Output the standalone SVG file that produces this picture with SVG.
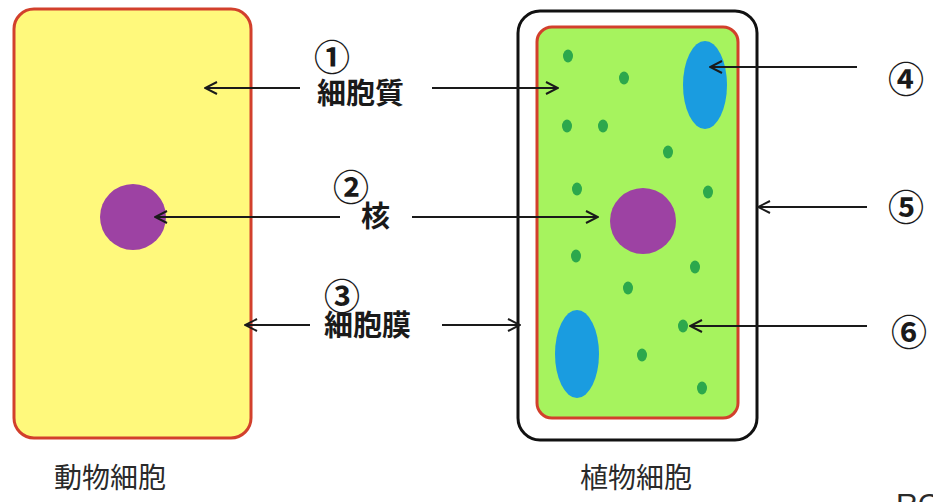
<svg xmlns="http://www.w3.org/2000/svg" width="933" height="502" viewBox="0 0 933 502">
  <style>
    .lbl { font-family: "Noto Sans CJK JP", "Noto Sans CJK SC", sans-serif; font-weight: bold; fill: #1a1a1a; font-size: 29px; }
    .num { font-family: "Noto Sans CJK JP", "Noto Sans CJK SC", sans-serif; font-weight: bold; fill: #1a1a1a; font-size: 36px; }
    .cap { font-family: "Noto Sans CJK JP", "Noto Sans CJK SC", sans-serif; font-size: 28px; fill: #2a2a2a; }
    .arrow { stroke: #1a1a1a; stroke-width: 2; fill: none; marker-end: url(#head); }
    .chloro { fill: #2ca84c; }
    .vac { fill: #1a9ce0; }
    .nuc { fill: #9d42a3; }
  </style>
  <defs>
    <marker id="head" viewBox="0 0 14 14" refX="13" refY="7" markerWidth="14" markerHeight="14" markerUnits="userSpaceOnUse" orient="auto">
      <path d="M1,1 L13,7 L1,13" fill="none" stroke="#1a1a1a" stroke-width="2"/>
    </marker>
  </defs>
  <rect width="933" height="502" fill="#ffffff"/>

  <!-- animal cell -->
  <g id="animal-cell">
    <rect x="14" y="9" width="237" height="429" rx="20" ry="20" fill="#fff97c" stroke="#d2402c" stroke-width="3"/>
    <circle class="nuc" cx="133" cy="217" r="33"/>
    <text class="cap" x="110" y="488" text-anchor="middle">動物細胞</text>
  </g>

  <!-- plant cell -->
  <g id="plant-cell">
    <rect x="518" y="11" width="239" height="429" rx="22" ry="22" fill="#ffffff" stroke="#111111" stroke-width="3"/>
    <rect x="537" y="27" width="201" height="391" rx="15" ry="15" fill="#a6f35e" stroke="#d2402c" stroke-width="3"/>
    <ellipse class="vac" cx="705" cy="85" rx="22" ry="44"/>
    <ellipse class="vac" cx="577" cy="354" rx="22" ry="44"/>
    <circle class="nuc" cx="643" cy="221" r="33"/>
    <g id="chloroplasts">
      <ellipse class="chloro" cx="568" cy="56" rx="5" ry="6.5"/>
      <ellipse class="chloro" cx="624" cy="78" rx="5" ry="6.5"/>
      <ellipse class="chloro" cx="567" cy="126" rx="5" ry="6.5"/>
      <ellipse class="chloro" cx="603" cy="126" rx="5" ry="6.5"/>
      <ellipse class="chloro" cx="668" cy="152" rx="5" ry="6.5"/>
      <ellipse class="chloro" cx="577" cy="189" rx="5" ry="6.5"/>
      <ellipse class="chloro" cx="708" cy="192" rx="5" ry="6.5"/>
      <ellipse class="chloro" cx="576" cy="256" rx="5" ry="6.5"/>
      <ellipse class="chloro" cx="695" cy="267" rx="5" ry="6.5"/>
      <ellipse class="chloro" cx="628" cy="288" rx="5" ry="6.5"/>
      <ellipse class="chloro" cx="683" cy="326" rx="5" ry="6.5"/>
      <ellipse class="chloro" cx="642" cy="355" rx="5" ry="6.5"/>
      <ellipse class="chloro" cx="702" cy="388" rx="5" ry="6.5"/>
    </g>
    <text class="cap" x="636" y="488" text-anchor="middle">植物細胞</text>
  </g>

  <!-- central labels -->
  <g id="label-cytoplasm">
    <text class="num" x="314" y="71">①</text>
    <text class="lbl" x="317" y="104">細胞質</text>
  </g>
  <g id="label-nucleus">
    <text class="num" x="333" y="201">②</text>
    <text class="lbl" x="361" y="227">核</text>
  </g>
  <g id="label-membrane">
    <text class="num" x="324" y="310">③</text>
    <text class="lbl" x="324" y="336">細胞膜</text>
  </g>

  <!-- right-side labels -->
  <g id="label-4"><text class="num" x="888" y="93">④</text></g>
  <g id="label-5"><text class="num" x="888" y="221">⑤</text></g>
  <g id="label-6"><text class="num" x="891" y="346">⑥</text></g>

  <!-- connectors -->
  <g id="connectors">
    <line class="arrow" x1="300" y1="88" x2="205" y2="88"/>
    <line class="arrow" x1="432" y1="88" x2="558" y2="88"/>
    <line class="arrow" x1="340" y1="217" x2="155" y2="217"/>
    <line class="arrow" x1="412" y1="217" x2="598" y2="217"/>
    <line class="arrow" x1="310" y1="325" x2="245" y2="325"/>
    <line class="arrow" x1="442" y1="325" x2="520" y2="325"/>
    <line class="arrow" x1="857" y1="67" x2="710" y2="67"/>
    <line class="arrow" x1="867" y1="207" x2="758" y2="207"/>
    <line class="arrow" x1="867" y1="326" x2="690" y2="326"/>
  </g>

  <text x="896" y="514" font-family="Liberation Sans, sans-serif" font-size="30" fill="#2a2a2a">RC</text>
</svg>
